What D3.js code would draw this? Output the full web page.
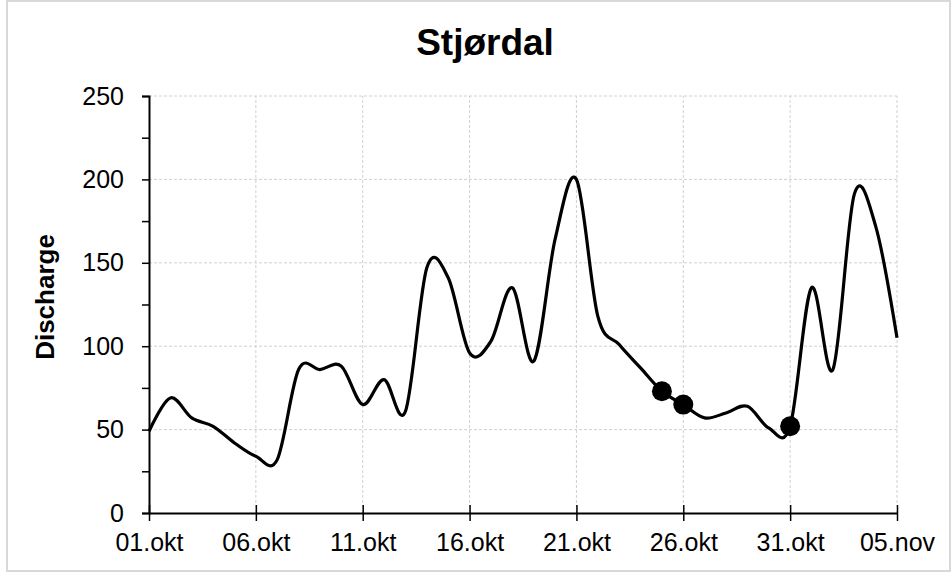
<!DOCTYPE html>
<html>
<head>
<meta charset="utf-8">
<script src="https://cdn.jsdelivr.net/npm/d3@7"></script>
<style>
  body { margin: 0; background: #fff; }
  text { font-family: Arial, "Liberation Sans", sans-serif; fill: #000; }
</style>
</head>
<body>
<div id="chart"></div>
<script>
// Stjørdal discharge, one value per day from 01.okt
var startDate = new Date(2000, 9, 1);
var discharge = [49, 69, 57, 52, 42, 34, 32, 86, 86, 88,
                 65, 80, 61, 147, 141, 96, 103, 135, 91, 164,
                 200, 118, 101, 87, 73, 65, 57, 60, 64, 51,
                 52, 135, 86, 191, 172, 105];
// days (offset from start) that carry a round marker
var markerDays = [24, 25, 30];
var xTickDays = [0, 5, 10, 15, 20, 25, 30, 35];
var xTickLabels = ["01.okt", "06.okt", "11.okt", "16.okt", "21.okt", "26.okt", "31.okt", "05.nov"];
var yTicks = [0, 25, 50, 75, 100, 125, 150, 175, 200, 225, 250];

var W = 951, H = 575;
var margin = {left: 149, right: 54, top: 96, bottom: 62};

function dayToDate(d) {
  return d3.timeDay.offset(startDate, d);
}

var data = discharge.map(function(v, i) { return {date: dayToDate(i), value: v}; });

var svg = d3.select("#chart").append("svg")
  .attr("width", W)
  .attr("height", H);

// outer chart frame
svg.append("rect")
  .attr("x", 7).attr("y", 1)
  .attr("width", 943).attr("height", 570)
  .attr("fill", "#fff")
  .attr("stroke", "#d9d9d9")
  .attr("stroke-width", 2);

var x = d3.scaleTime()
  .domain([dayToDate(0), dayToDate(35)])
  .range([margin.left, W - margin.right]);

var y = d3.scaleLinear()
  .domain([0, 250])
  .range([H - margin.bottom, margin.top]);

var xTickDates = xTickDays.map(dayToDate);

// gridlines
var grid = svg.append("g").attr("class", "grid");
grid.selectAll("line.h")
  .data([50, 100, 150, 200, 250])
  .enter().append("line")
  .attr("x1", x.range()[0]).attr("x2", x.range()[1])
  .attr("y1", function(d) { return y(d); })
  .attr("y2", function(d) { return y(d); })
  .attr("stroke", "#d0d0d0")
  .attr("stroke-dasharray", "3,2")
  .attr("stroke-width", 1);
grid.selectAll("line.v")
  .data(xTickDates.slice(1))
  .enter().append("line")
  .attr("x1", function(d) { return x(d); })
  .attr("x2", function(d) { return x(d); })
  .attr("y1", y.range()[0]).attr("y2", y.range()[1])
  .attr("stroke", "#d0d0d0")
  .attr("stroke-dasharray", "3,2")
  .attr("stroke-width", 1);

// y axis
var yAxis = d3.axisLeft(y)
  .tickValues(yTicks)
  .tickSize(7)
  .tickPadding(18)
  .tickFormat(function(d) { return d % 50 === 0 ? d : ""; });

var gy = svg.append("g")
  .attr("transform", "translate(" + margin.left + ",0)")
  .call(yAxis);
gy.select(".domain").attr("stroke", "#000").attr("stroke-width", 2);
gy.selectAll(".tick line").attr("stroke", "#000").attr("stroke-width", 1.5);
gy.selectAll(".tick text")
  .attr("font-size", 25)
  .attr("font-family", "Arial, 'Liberation Sans', sans-serif")
  .attr("fill", "#000");

// x axis, ticks cross the axis line
var xAxis = d3.axisBottom(x)
  .tickValues(xTickDates)
  .tickSizeInner(8)
  .tickSizeOuter(0)
  .tickFormat(function(d, i) { return xTickLabels[i]; });

var gx = svg.append("g")
  .attr("transform", "translate(0," + (H - margin.bottom) + ")")
  .call(xAxis);
gx.select(".domain").attr("stroke", "#000").attr("stroke-width", 2);
gx.selectAll(".tick line")
  .attr("y1", -8).attr("y2", 8)
  .attr("stroke", "#000").attr("stroke-width", 1.5);
gx.selectAll(".tick text")
  .attr("y", 38).attr("dy", 0)
  .attr("font-size", 25)
  .attr("font-family", "Arial, 'Liberation Sans', sans-serif")
  .attr("fill", "#000");

// smoothed series line
var line = d3.line()
  .x(function(d) { return x(d.date); })
  .y(function(d) { return y(d.value); })
  .curve(d3.curveCatmullRom.alpha(0));

svg.append("path")
  .datum(data)
  .attr("d", line)
  .attr("fill", "none")
  .attr("stroke", "#000")
  .attr("stroke-width", 3.2)
  .attr("stroke-linejoin", "round");

svg.selectAll("circle.marker")
  .data(markerDays.map(function(d) { return data[d]; }))
  .enter().append("circle")
  .attr("class", "marker")
  .attr("cx", function(d) { return x(d.date); })
  .attr("cy", function(d) { return y(d.value); })
  .attr("r", 10)
  .attr("fill", "#000");

// titles
svg.append("text")
  .attr("x", 485).attr("y", 55)
  .attr("text-anchor", "middle")
  .attr("font-size", 37)
  .attr("font-weight", "bold")
  .text("Stjørdal");

svg.append("text")
  .attr("transform", "translate(54,297) rotate(-90)")
  .attr("text-anchor", "middle")
  .attr("font-size", 26)
  .attr("font-weight", "bold")
  .text("Discharge");
</script>
</body>
</html>
